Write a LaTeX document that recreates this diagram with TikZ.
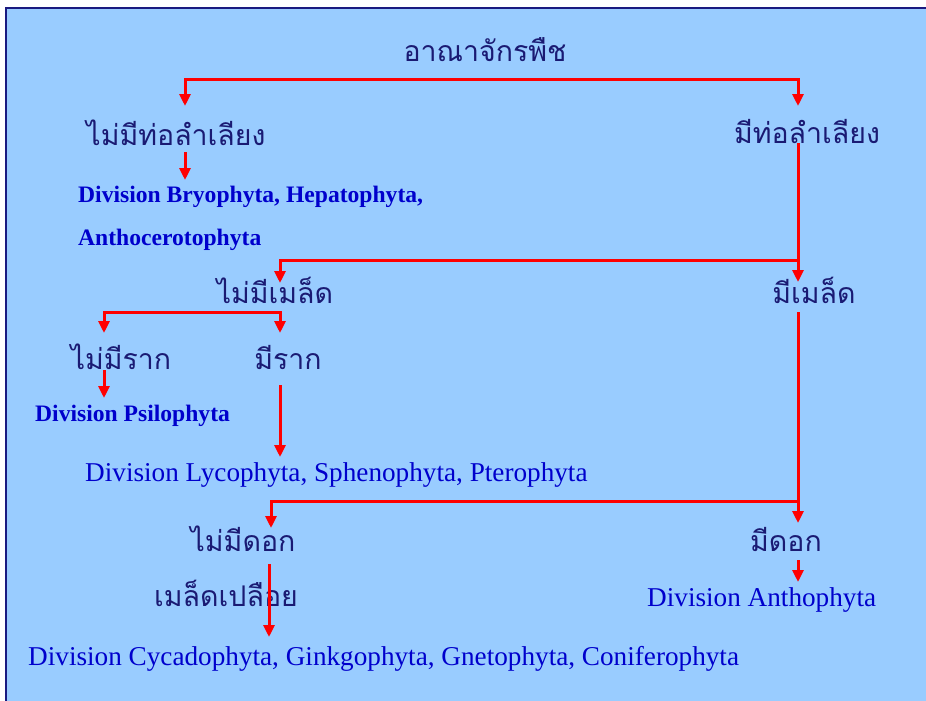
\documentclass[tikz,border=0pt]{standalone}
\usepackage{fontspec}
\setmainfont{Liberation Serif}
\newfontfamily\thaifont[Script=Thai]{Loma}
\usetikzlibrary{arrows.meta}

\definecolor{slidebg}{HTML}{99CCFF}
\definecolor{slideedge}{HTML}{1A1A80}
\definecolor{thaiblue}{HTML}{1A1A73}
\definecolor{latinblue}{HTML}{0000CC}

\tikzset{
  th/.style={font=\thaifont\fontsize{28.5}{30}\selectfont, text=thaiblue, inner sep=0pt, anchor=base},
  dv/.style={font=\fontsize{27.2}{28}\selectfont, text=latinblue, inner sep=0pt, anchor=base west},
  dvb/.style={dv, font=\bfseries\fontsize{23.6}{24}\selectfont},
  link/.style={red, line width=3pt, -{Triangle[length=12pt,width=11pt]}},
}

\begin{document}
\begin{tikzpicture}[x=1pt,y=-1pt]
\useasboundingbox (0,0) rectangle (926,701);
\fill[slidebg] (6,8) rectangle (926,701);
\draw[slideedge, line width=2pt] (6,701) -- (6,8) -- (926,8);

% thai labels
\node[th] (plant) at (485,62) {อาณาจักรพืช};
\node[th] (novasc) at (176,145) {ไม่มีท่อลำเลียง};
\node[th] (vasc) at (807,143) {มีท่อลำเลียง};
\node[th] (noseed) at (275,303) {ไม่มีเมล็ด};
\node[th] (seed) at (814,303) {มีเมล็ด};
\node[th] (noroot) at (121,369) {ไม่มีราก};
\node[th] (root) at (288,369) {มีราก};
\node[th] (noflower) at (243,551) {ไม่มีดอก};
\node[th] (flower) at (786,551) {มีดอก};
\node[th] (naked) at (226,606) {เมล็ดเปลือย};

% divisions
\node[dvb] (bryo) at (78,202) {Division Bryophyta, Hepatophyta,};
\node[dvb] (antho) at (78,245) {Anthocerotophyta};
\node[dvb] (psilo) at (35,421) {Division Psilophyta};
\node[dv] (lyco) at (85,481) {Division Lycophyta, Sphenophyta, Pterophyta};
\node[dv] (anth) at (647,606) {Division Anthophyta};
\node[dv] (cyca) at (28,665) {Division Cycadophyta, Ginkgophyta, Gnetophyta, Coniferophyta};

% branch points and arrow ends
\coordinate (k1) at (185,79);
\coordinate (k2) at (798,79);
\coordinate (v1) at (798,143);
\coordinate (v2) at (280,260);
\coordinate (s1) at (798,312);
\coordinate (s2) at (271,501);
\coordinate (r1) at (104,312);
\coordinate (r2) at (280,312);

\draw[link] (k2) -- (k1) -- (185,106);
\draw[link] (k1) -- (k2) -- (798,106);
\draw[link] (185,152) -- (185,180);
\draw[link] (v1) -- (798,282);
\draw[link] (v1 |- v2) -- (v2) -- (280,283);
\draw[link] (s1) -- (798,523);
\draw[link] (s1 |- s2) -- (s2) -- (271,528);
\draw[link] (r2) -- (r1) -- (104,333);
\draw[link] (r1) -- (r2) -- (280,333);
\draw[link] (104,370) -- (104,398);
\draw[link] (280,385) -- (280,457);
\draw[link] (798,560) -- (798,582);
\draw[link] (269,564) -- (269,637);
\end{tikzpicture}
\end{document}
